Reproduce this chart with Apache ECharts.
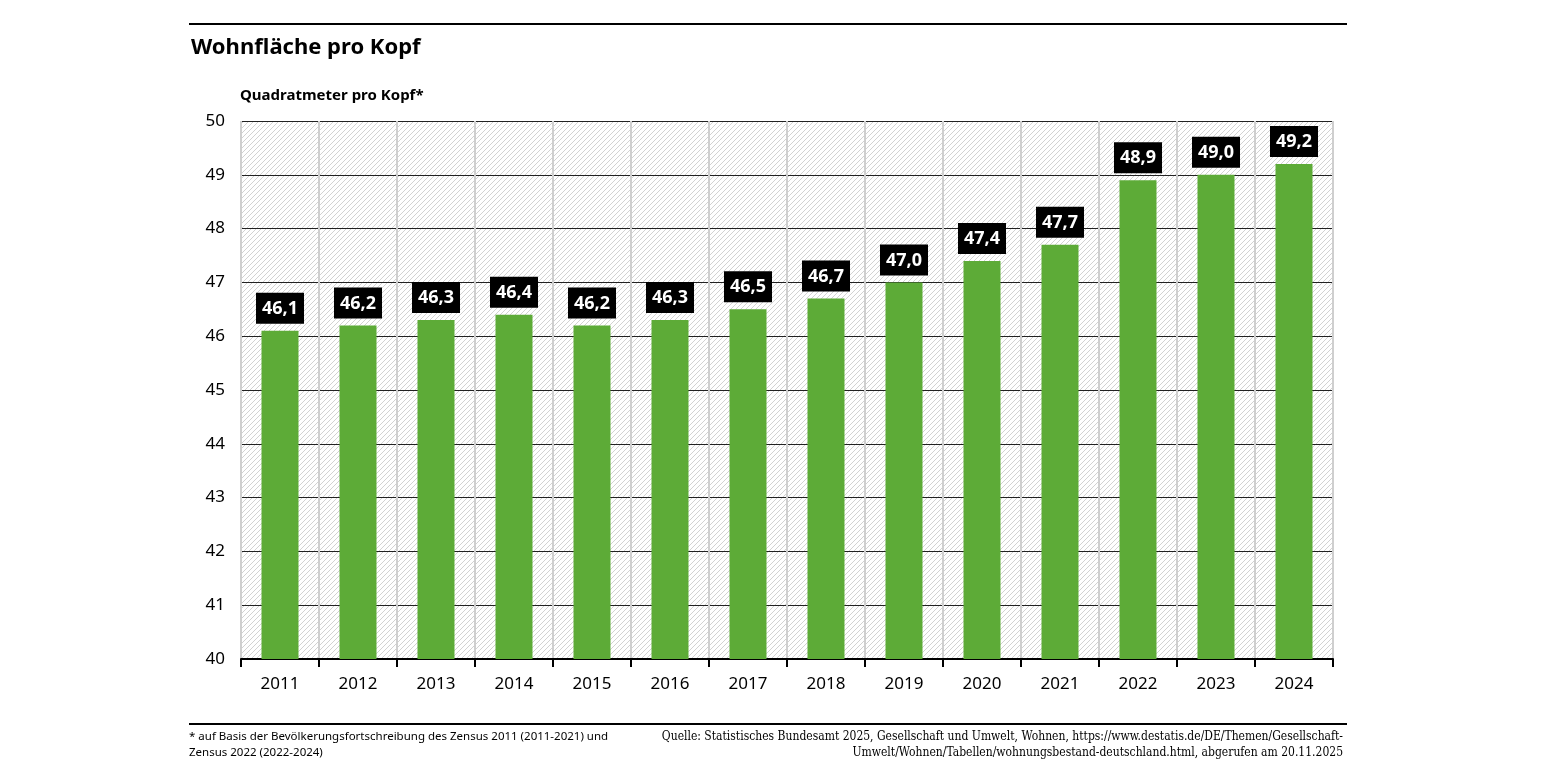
<!DOCTYPE html>
<html><head><meta charset="utf-8">
<script src="https://cdn.jsdelivr.net/npm/echarts@6/dist/echarts.min.js"></script>
<style>html,body{margin:0;padding:0;background:#fff}#c{width:1545px;height:775px}</style>
</head><body><div id="c"></div>
<script>
const years = ['2011','2012','2013','2014','2015','2016','2017','2018','2019','2020','2021','2022','2023','2024'];
const values = [46.1,46.2,46.3,46.4,46.2,46.3,46.5,46.7,47.0,47.4,47.7,48.9,49.0,49.2];
const yMin = 40, yMax = 50, yStep = 1;
const title = 'Wohnfläche pro Kopf';
const unitLabel = 'Quadratmeter pro Kopf*';
const noteLeft = '* auf Basis der Bevölkerungsfortschreibung des Zensus 2011 (2011-2021) und\nZensus 2022 (2022-2024)';
const noteRight = 'Quelle: Statistisches Bundesamt 2025, Gesellschaft und Umwelt, Wohnen, https://www.destatis.de/DE/Themen/Gesellschaft-\nUmwelt/Wohnen/Tabellen/wohnungsbestand-deutschland.html, abgerufen am 20.11.2025';

function hatch(){
  const c = document.createElement('canvas');
  c.width = 5; c.height = 5;
  const g = c.getContext('2d');
  g.fillStyle = '#ffffff'; g.fillRect(0,0,5,5);
  g.strokeStyle = '#d2d2d2'; g.lineWidth = 1;
  g.beginPath();
  g.moveTo(-1,6); g.lineTo(6,-1);
  g.moveTo(-1,1); g.lineTo(1,-1);
  g.moveTo(4,6); g.lineTo(6,4);
  g.stroke();
  return c;
}
const FONT = '"Noto Sans", sans-serif';
const chart = echarts.init(document.getElementById('c'), null, {renderer:'canvas'});
chart.setOption({
  animation:false,
  backgroundColor:'#fff',
  grid:{left:241,right:212,top:121,bottom:116,show:true,borderWidth:0,
        backgroundColor:{image:hatch(),repeat:'repeat'}},
  xAxis:{type:'category',data:years,
    axisLine:{show:true,lineStyle:{color:'#000',width:2}},
    axisTick:{show:true,length:8,lineStyle:{color:'#000',width:2}},
    axisLabel:{color:'#000',fontSize:17,fontFamily:FONT,margin:17},
    splitLine:{show:true,lineStyle:{color:'#cfcfcf',width:2}}},
  yAxis:{type:'value',min:yMin,max:yMax,interval:yStep,
    axisLine:{show:false},axisTick:{show:false},
    axisLabel:{color:'#000',fontSize:17,fontFamily:FONT,margin:16},
    splitLine:{show:true,lineStyle:{color:'#222',width:1}}},
  series:[{type:'bar',data:values,barWidth:37,
    itemStyle:{color:'#5dab37'},
    label:{show:true,position:'top',distance:7,
      formatter:p=>p.value.toFixed(1).replace('.',','),
      color:'#fff',fontWeight:'bold',fontSize:18,fontFamily:FONT,lineHeight:20,
      backgroundColor:'#000',padding:[6,6,5,6]}}],
  graphic:[
    {type:'rect',shape:{x:189,y:23,width:1158,height:2},style:{fill:'#000'}},
    {type:'text',left:191,top:37,style:{text:title,font:'bold 22px '+FONT,fill:'#000'}},
    {type:'text',left:240,top:88,style:{text:unitLabel,font:'bold 15px '+FONT,fill:'#000'}},
    {type:'rect',shape:{x:189,y:723,width:1158,height:2},style:{fill:'#000'}},
    {type:'text',x:189,y:729,style:{text:noteLeft,font:'11.5px '+FONT,fill:'#000',lineHeight:16}},
    {type:'text',x:1343,y:729,style:{text:noteRight,font:'12px "DejaVu Serif Condensed", serif',fill:'#000',align:'right',lineHeight:16}}
  ]
});
</script></body></html>
